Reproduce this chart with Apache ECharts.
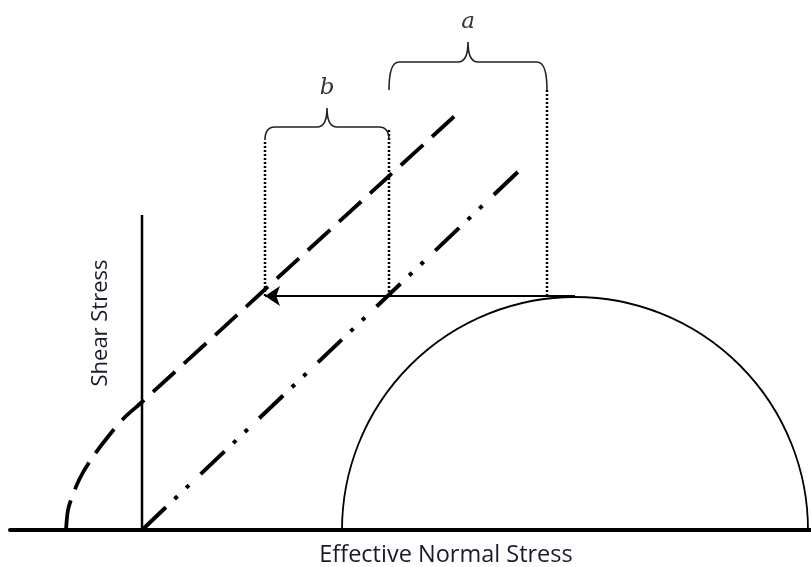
<!DOCTYPE html>
<html>
<head>
<meta charset="utf-8">
<script src="https://cdn.jsdelivr.net/npm/echarts@6/dist/echarts.min.js"></script>
<style>
  html, body { margin: 0; padding: 0; background: #fff; }
  #chart { width: 811px; height: 567px; }
</style>
</head>
<body>
<div id="chart"></div>
<script>
// diagram units: origin where the shear axis meets the normal-stress axis
var shearAxis = [[0, 0], [0, 315]];
var mohrCircle = [[433, 233]];            // centre on sigma', radius
var envelopeDashDot = [[0, 0], [380, 362]];
var envelopeCurved = [[-76, 0], [-74, 20], [-70, 33], [-62, 52], [-50, 72], [-35, 92],
  [-18, 112], [0, 128], [118, 236], [246, 353], [317, 418]];
var shiftArrow = [[433, 234], [123, 234]];
var dropLines = [[123, 234, 390], [247, 234, 402], [405, 234, 440]];   // x, yFrom, yTo
var braces = [[123, 247, 390, 403, 422, 'b'], [247, 405, 440, 468, 488, 'a']]; // x1, x2, edge, bar, tip, label

var chart = echarts.init(document.getElementById('chart'));

function braceItem(params, api) {
  var p1 = api.coord([api.value(0), api.value(2)]);
  var p2 = api.coord([api.value(1), api.value(2)]);
  var bar = api.coord([api.value(0), api.value(3)])[1];
  var tip = api.coord([(api.value(0) + api.value(1)) / 2, api.value(4)]);
  var xm = tip[0], r = 10;
  var d = 'M' + p1[0] + ',' + p1[1] +
    ' Q' + p1[0] + ',' + bar + ' ' + (p1[0] + r) + ',' + bar +
    ' L' + (xm - r) + ',' + bar +
    ' Q' + xm + ',' + bar + ' ' + xm + ',' + tip[1] +
    ' Q' + xm + ',' + bar + ' ' + (xm + r) + ',' + bar +
    ' L' + (p2[0] - r) + ',' + bar +
    ' Q' + p2[0] + ',' + bar + ' ' + p2[0] + ',' + p2[1];
  return {
    type: 'group',
    children: [
      { type: 'path', shape: { pathData: d }, style: { fill: null, stroke: '#222', lineWidth: 1.6 } },
      { type: 'text', x: xm, y: tip[1] - 20,
        style: { text: braces[params.dataIndex][5], font: 'italic 23px "DejaVu Serif", serif',
          fill: '#333', align: 'center', verticalAlign: 'middle' } }
    ]
  };
}

var option = {
  animation: false,
  grid: { left: 10, right: 0, top: 0, bottom: 37 },
  xAxis: {
    type: 'value', min: -132, max: 669,
    axisLine: { show: true, onZero: false, lineStyle: { color: '#000', width: 4 } },
    axisTick: { show: false }, axisLabel: { show: false }, splitLine: { show: false }
  },
  yAxis: {
    type: 'value', min: 0, max: 530, show: false
  },
  graphic: [
    { type: 'text', x: 446, y: 555,
      style: { text: 'Effective Normal Stress', font: '23.5px "Open Sans", sans-serif',
        fill: '#1a1a2a', align: 'center', verticalAlign: 'middle' } },
    { type: 'text', x: 101, y: 323, rotation: Math.PI / 2,
      style: { text: 'Shear Stress', font: '22px "Open Sans", sans-serif',
        fill: '#1a1a2a', align: 'center', verticalAlign: 'middle' } }
  ],
  series: [
    {
      type: 'line', data: shearAxis, showSymbol: false,
      lineStyle: { color: '#000', width: 2.5 }
    },
    {
      type: 'custom', data: mohrCircle,
      renderItem: function (params, api) {
        var c = api.coord([api.value(0), 0]);
        var r = api.size([api.value(1), 0])[0];
        return { type: 'arc', shape: { cx: c[0], cy: c[1], r: r, startAngle: Math.PI, endAngle: 2 * Math.PI },
          style: { fill: null, stroke: '#000', lineWidth: 1.8 } };
      }
    },
    {
      type: 'line', data: envelopeDashDot, showSymbol: false,
      lineStyle: { color: '#000', width: 4, type: [33, 12, 4, 12, 4, 16] }
    },
    {
      type: 'line', data: envelopeCurved, showSymbol: false, smooth: 0.3,
      lineStyle: { color: '#000', width: 3.8, type: [30, 12] }
    },
    {
      type: 'custom', data: dropLines,
      renderItem: function (params, api) {
        var a = api.coord([api.value(0), api.value(1)]);
        var b = api.coord([api.value(0), api.value(2)]);
        return { type: 'line', shape: { x1: a[0], y1: a[1], x2: b[0], y2: b[1] },
          style: { stroke: '#000', lineWidth: 2.5, lineDash: [2, 2] } };
      }
    },
    {
      type: 'lines', coordinateSystem: 'cartesian2d',
      data: [{ coords: shiftArrow }],
      symbol: ['none', 'arrow'], symbolSize: [13, 15],
      lineStyle: { color: '#000', width: 2, opacity: 1 }
    },
    {
      type: 'custom', data: braces.map(function (b) { return b.slice(0, 5); }),
      renderItem: braceItem
    }
  ]
};
chart.setOption(option);
</script>
</body>
</html>
